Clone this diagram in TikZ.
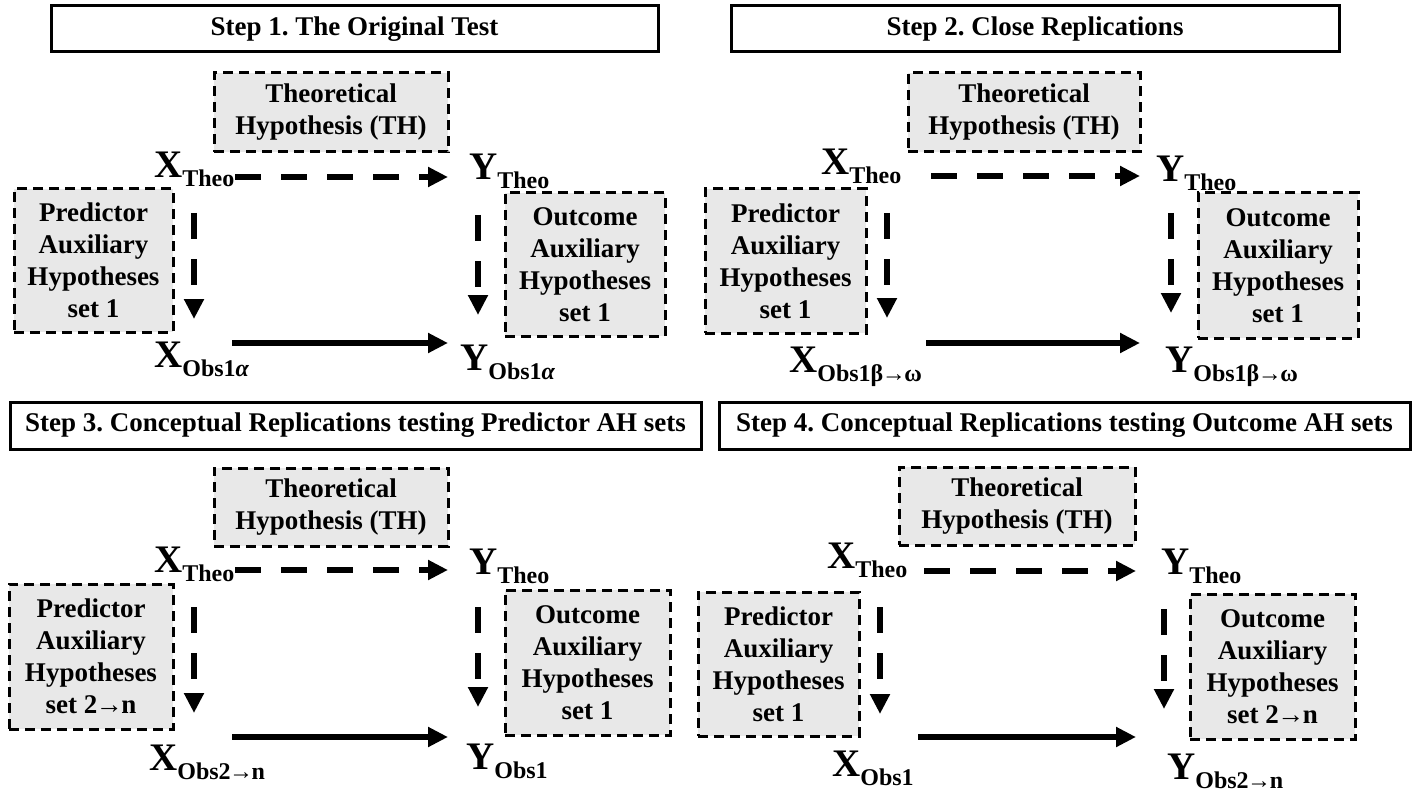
\documentclass[tikz,border=0pt]{standalone}
\usepackage{fontspec}
\setmainfont{Liberation Serif}
\usetikzlibrary{arrows.meta}
\frenchspacing
\newcommand{\biglab}[2]{{\fontsize{39}{39}\selectfont #1}{\fontsize{24}{24}\selectfont\raisebox{-9pt}{#2}}}
\newcommand{\arr}{\kern-1.5pt→\kern-1.5pt}
\begin{document}
\begin{tikzpicture}[x=1pt,y=-1pt,
  titlebox/.style={draw,line width=3pt,fill=white,inner sep=0pt,font=\fontsize{27}{32}\selectfont\bfseries},
  hypbox/.style={draw,line width=3pt,dash pattern=on 10pt off 6pt,fill=black!9,inner sep=0pt,align=center,font=\fontsize{27}{32}\selectfont\bfseries},
  varlab/.style={inner sep=0pt,anchor=base west,font=\bfseries},
  dasharrow/.style={line width=6pt,dash pattern=on 26pt off 20pt,-{Triangle[length=20pt,width=19pt]}},
  solidarrow/.style={line width=6pt,-{Triangle[length=20pt,width=19pt]}}
]
\useasboundingbox (0,0) rectangle (1420,794);
\fill[white] (0,0) rectangle (1420,794);

% ---------- Panel 1 ----------
\node[titlebox,minimum width=607pt,minimum height=46pt] (t1) at (354.5,29) {Step 1. The Original Test};
\node[hypbox,minimum width=234pt,minimum height=79pt] (th1) at (331,112.5) {Theoretical\\Hypothesis (TH)};
\node[hypbox,minimum width=159pt,minimum height=143pt] (pa1) at (93.5,260.5) {Predictor\\Auxiliary\\Hypotheses\\set 1};
\node[hypbox,minimum width=160pt,minimum height=143pt] (oa1) at (585,264.5) {Outcome\\Auxiliary\\Hypotheses\\set 1};
\node[varlab] (xt1) at (154,178) {\biglab{X}{Theo}};
\node[varlab] (yt1) at (469,180) {\biglab{Y}{Theo}};
\node[varlab] (xo1) at (154,367) {\biglab{X}{Obs1\textit{α}}};
\node[varlab] (yo1) at (460,370) {\biglab{Y}{Obs1\textit{α}}};
\coordinate (a1) at (235,177); \coordinate (b1) at (448,177);
\coordinate (c1) at (194,213); \coordinate (d1) at (194,319);
\coordinate (e1) at (478,215); \coordinate (f1) at (478,315);
\coordinate (g1) at (232,343); \coordinate (h1) at (448,343);
\draw[dasharrow] (a1) -- (b1);
\draw[dasharrow] (c1) -- (d1);
\draw[dasharrow] (e1) -- (f1);
\draw[solidarrow] (g1) -- (h1);

% ---------- Panel 2 ----------
\node[titlebox,minimum width=608pt,minimum height=46pt] (t2) at (1035,29) {Step 2. Close Replications};
\node[hypbox,minimum width=232pt,minimum height=79pt] (th2) at (1024,112.5) {Theoretical\\Hypothesis (TH)};
\node[hypbox,minimum width=161pt,minimum height=144pt] (pa2) at (785.5,261) {Predictor\\Auxiliary\\Hypotheses\\set 1};
\node[hypbox,minimum width=160pt,minimum height=145pt] (oa2) at (1278,265.5) {Outcome\\Auxiliary\\Hypotheses\\set 1};
\node[varlab] (xt2) at (821,175) {\biglab{X}{Theo}};
\node[varlab] (yt2) at (1156,182) {\biglab{Y}{Theo}};
\node[varlab] (xo2) at (789,372) {\biglab{X}{Obs1β\arr ω}};
\node[varlab] (yo2) at (1165,372) {\biglab{Y}{Obs1β\arr ω}};
\coordinate (a2) at (931,176); \coordinate (b2) at (1140,176);
\coordinate (c2) at (887,213); \coordinate (d2) at (887,318);
\coordinate (e2) at (1171,213); \coordinate (f2) at (1171,313);
\coordinate (g2) at (926,343); \coordinate (h2) at (1140,343);
\draw[dasharrow] (a2) -- (b2);
\draw[dasharrow] (c2) -- (d2);
\draw[dasharrow] (e2) -- (f2);
\draw[solidarrow] (g2) -- (h2);

% ---------- Panel 3 ----------
\node[titlebox,minimum width=691pt,minimum height=47pt] (t3) at (355.5,425.5) {Step 3. Conceptual Replications testing Predictor AH sets};
\node[hypbox,minimum width=234pt,minimum height=78pt] (th3) at (331,507) {Theoretical\\Hypothesis (TH)};
\node[hypbox,minimum width=164pt,minimum height=145pt] (pa3) at (91,656.5) {Predictor\\Auxiliary\\Hypotheses\\set 2\arr n};
\node[hypbox,minimum width=165pt,minimum height=145pt] (oa3) at (587.5,662.5) {Outcome\\Auxiliary\\Hypotheses\\set 1};
\node[varlab] (xt3) at (154,572) {\biglab{X}{Theo}};
\node[varlab] (yt3) at (469,574) {\biglab{Y}{Theo}};
\node[varlab] (xo3) at (149,770) {\biglab{X}{Obs2\arr n}};
\node[varlab] (yo3) at (466,769) {\biglab{Y}{Obs1}};
\coordinate (a3) at (235,570); \coordinate (b3) at (448,570);
\coordinate (c3) at (194,607); \coordinate (d3) at (194,713);
\coordinate (e3) at (478,607); \coordinate (f3) at (478,707);
\coordinate (g3) at (232,737); \coordinate (h3) at (448,737);
\draw[dasharrow] (a3) -- (b3);
\draw[dasharrow] (c3) -- (d3);
\draw[dasharrow] (e3) -- (f3);
\draw[solidarrow] (g3) -- (h3);

% ---------- Panel 4 ----------
\node[titlebox,minimum width=691pt,minimum height=47pt] (t4) at (1064.5,425.5) {Step 4. Conceptual Replications testing Outcome AH sets};
\node[hypbox,minimum width=236pt,minimum height=78pt] (th4) at (1017,506) {Theoretical\\Hypothesis (TH)};
\node[hypbox,minimum width=161pt,minimum height=144pt] (pa4) at (778.5,664) {Predictor\\Auxiliary\\Hypotheses\\set 1};
\node[hypbox,minimum width=165pt,minimum height=145pt] (oa4) at (1272.5,666.5) {Outcome\\Auxiliary\\Hypotheses\\set 2\arr n};
\node[varlab] (xt4) at (827,568) {\biglab{X}{Theo}};
\node[varlab] (yt4) at (1161,574) {\biglab{Y}{Theo}};
\node[varlab] (xo4) at (832,776) {\biglab{X}{Obs1}};
\node[varlab] (yo4) at (1167,779) {\biglab{Y}{Obs2\arr n}};
\coordinate (a4) at (924,571); \coordinate (b4) at (1136,571);
\coordinate (c4) at (880,607); \coordinate (d4) at (880,714);
\coordinate (e4) at (1164,609); \coordinate (f4) at (1164,709);
\coordinate (g4) at (918,737); \coordinate (h4) at (1136,737);
\draw[dasharrow] (a4) -- (b4);
\draw[dasharrow] (c4) -- (d4);
\draw[dasharrow] (e4) -- (f4);
\draw[solidarrow] (g4) -- (h4);
\end{tikzpicture}
\end{document}
